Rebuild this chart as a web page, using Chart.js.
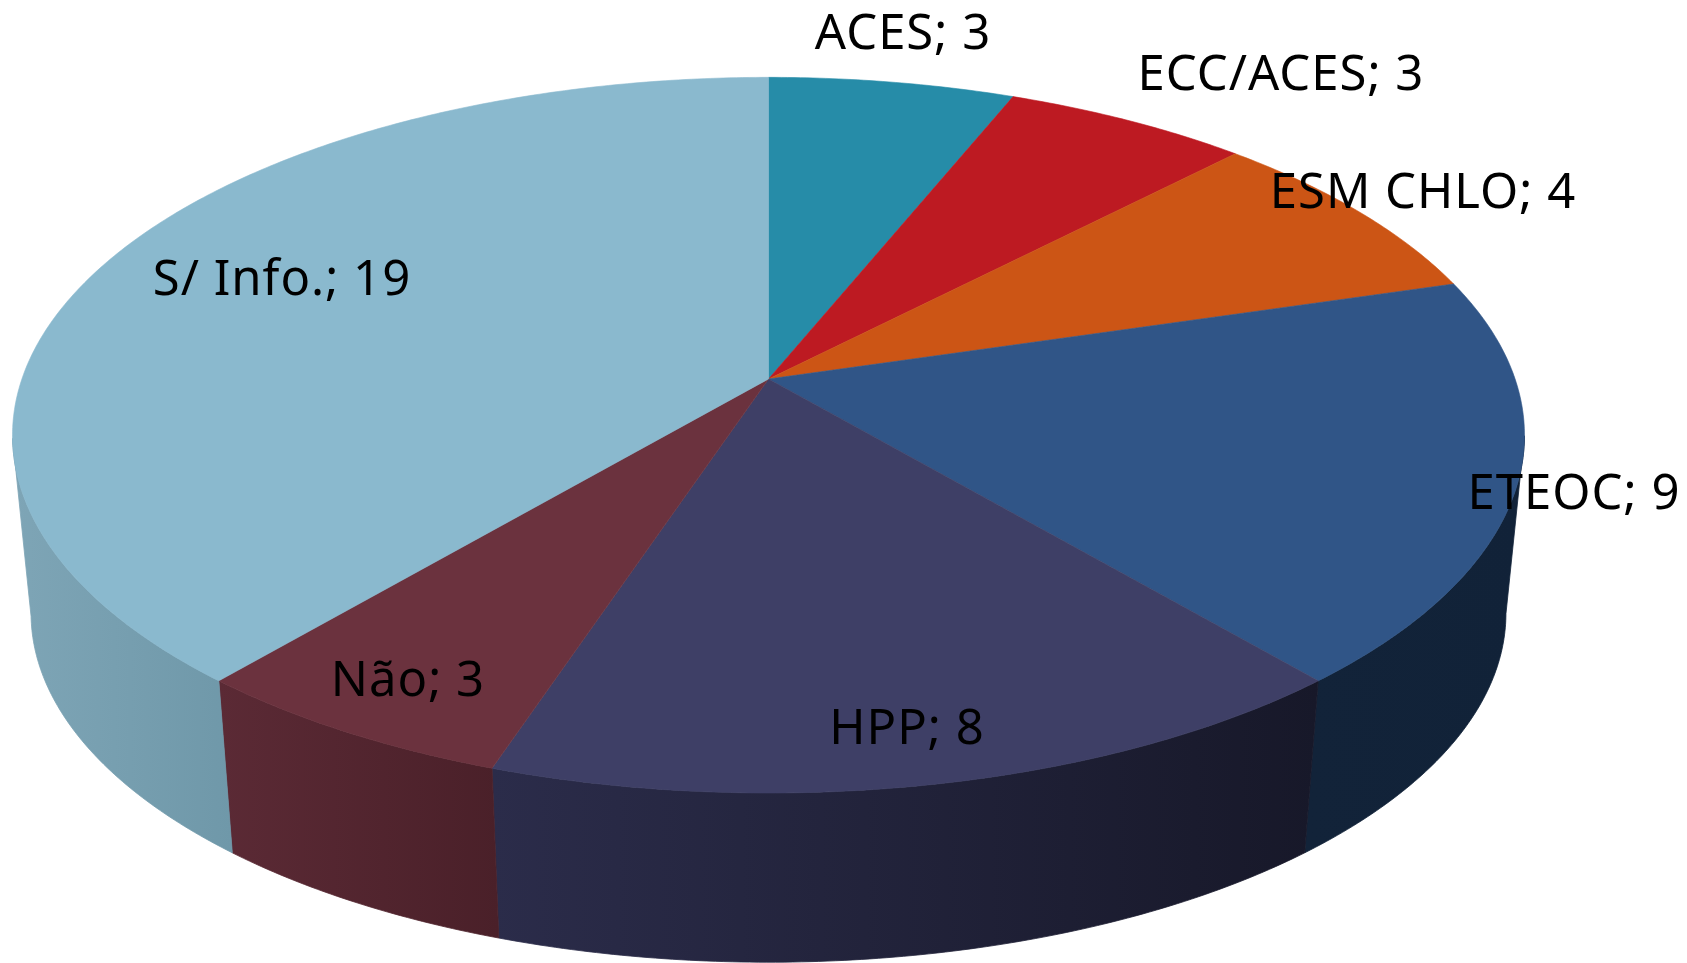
<!DOCTYPE html>
<html>
<head>
<meta charset="utf-8">
<title>Pie</title>
<script src="https://cdn.jsdelivr.net/npm/chart.js@4"></script>
<style>
  html, body { margin: 0; padding: 0; background: #fff; overflow: hidden; }
  canvas { display: block; }
</style>
</head>
<body>
<canvas id="pie" width="1687" height="963"></canvas>
<script>
// data
const categories = ['ACES', 'ECC/ACES', 'ESM CHLO', 'ETEOC', 'HPP', 'Não', 'S/ Info.'];
const values = [3, 3, 4, 9, 8, 3, 19];

// colours
const topColors = ['#268ca8', '#bd1a22', '#cc5515', '#305587', '#3e3f66', '#6b323e', '#8ab9ce'];
const wallFrom = ['#1c6a80', '#8e141a', '#9a4010', '#122339', '#2b2c4a', '#5b2a35', '#7ea5b6'];
const wallTo = ['#1c6a80', '#8e141a', '#9a4010', '#112238', '#171829', '#4a2029', '#6f98a9'];

// label centres, placed by hand like in the original
const labelSpots = [[903, 35], [1281, 76], [1423, 194], [1574, 495], [907, 730], [408, 682], [282, 281]];

// perspective of the disc: centre, half axes, tilt, and the wall going down to a vanishing point
const view = { cx: 768.5, cy: 379, a: 746.6, b: 349, tilt: 0.157, vpY: 7700, depth: 0.0245 };

function project(angle, low) {
  const u = Math.cos(angle), v = Math.sin(angle);
  const d = 1 - view.tilt * v;
  const x = view.cx + view.a * u / d;
  const y = view.cy + view.b * v / d;
  if (!low) return [x, y];
  return [x + (view.cx - x) * view.depth, y + (view.vpY - y) * view.depth];
}

function rim(start, end) {
  const n = Math.max(2, Math.ceil((end - start) / 0.01));
  const out = [];
  for (let i = 0; i <= n; i++) out.push(start + (end - start) * i / n);
  return out;
}

// draws the arcs Chart.js laid out, tilted, with a side wall
const pie3d = {
  id: 'pie3d',
  beforeDatasetsDraw(chart) {
    const ctx = chart.ctx;
    const arcs = chart.getDatasetMeta(0).data;

    arcs.forEach((arc, i) => {
      // only the part of the rim in front of the silhouette, sin(t) = tilt is where it turns
      const front = rim(arc.startAngle, arc.endAngle).filter(t => Math.sin(t) >= view.tilt);
      if (front.length < 2) return;
      const xs = front.map(t => project(t, false)[0]).concat(front.map(t => project(t, true)[0]));
      const g = ctx.createLinearGradient(Math.min(...xs), 0, Math.max(...xs), 0);
      g.addColorStop(0, wallFrom[i]);
      g.addColorStop(1, wallTo[i]);
      ctx.beginPath();
      front.forEach((t, k) => {
        const p = project(t, false);
        if (k) ctx.lineTo(p[0], p[1]); else ctx.moveTo(p[0], p[1]);
      });
      front.slice().reverse().forEach(t => {
        const p = project(t, true);
        ctx.lineTo(p[0], p[1]);
      });
      ctx.closePath();
      ctx.fillStyle = g;
      ctx.strokeStyle = g;
      ctx.lineWidth = 0.8;
      ctx.fill();
      ctx.stroke();
    });

    arcs.forEach((arc, i) => {
      ctx.beginPath();
      ctx.moveTo(view.cx, view.cy);
      rim(arc.startAngle, arc.endAngle).forEach(t => {
        const p = project(t, false);
        ctx.lineTo(p[0], p[1]);
      });
      ctx.closePath();
      ctx.fillStyle = topColors[i];
      ctx.strokeStyle = topColors[i];
      ctx.lineWidth = 0.6;
      ctx.fill();
      ctx.stroke();
    });

    return false; // the flat arcs are not wanted
  },
  afterDraw(chart) {
    const ctx = chart.ctx;
    ctx.save();
    ctx.font = '49px "Noto Sans"';
    ctx.letterSpacing = '1px';
    ctx.fillStyle = '#000';
    ctx.textAlign = 'center';
    ctx.textBaseline = 'middle';
    categories.forEach((c, i) => {
      ctx.fillText(c + '; ' + values[i], labelSpots[i][0], labelSpots[i][1]);
    });
    ctx.restore();
  }
};

new Chart(document.getElementById('pie'), {
  type: 'pie',
  data: {
    labels: categories,
    datasets: [{ data: values, backgroundColor: topColors, borderWidth: 0 }]
  },
  options: {
    responsive: false,
    animation: false,
    plugins: { legend: { display: false }, tooltip: { enabled: false } }
  },
  plugins: [pie3d]
});
</script>
</body>
</html>
